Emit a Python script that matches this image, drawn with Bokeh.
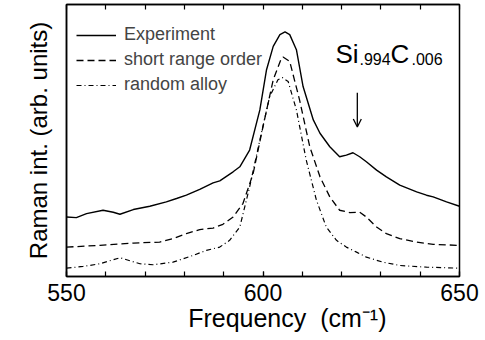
from bokeh.plotting import figure
from bokeh.models import (Range1d, FixedTicker, LinearAxis, Legend, LegendItem,
                          Label, Arrow, OpenHead)
from bokeh.embed import file_html
from bokeh.resources import INLINE

# Experiment (solid)
freq_exp = [550.0, 552.5, 555.1, 559.3, 561.9, 563.6, 567.0, 571.2, 575.4, 578.0,
            580.5, 583.9, 587.3, 589.0, 592.4, 594.1, 596.6, 599.2, 600.9, 602.6,
            604.3, 605.6, 606.8, 608.5, 610.2, 612.8, 614.5, 617.0, 619.5, 621.2,
            622.9, 624.6, 626.3, 628.9, 631.4, 634.8, 639.1, 641.6, 643.3, 646.7, 650.0]
int_exp = [59.3, 58.7, 62.7, 66.0, 64.0, 62.0, 66.7, 70.0, 74.3, 77.7,
           81.0, 86.7, 93.3, 95.3, 104.3, 109.3, 126.0, 166.0, 206.0, 229.3,
           241.0, 243.7, 241.0, 226.0, 189.3, 156.0, 142.7, 129.3, 119.3, 121.0,
           123.3, 119.3, 114.3, 106.0, 99.3, 91.0, 84.3, 81.0, 79.3, 74.3, 70.0]

# short range order (dashed)
freq_sro = [550.0, 558.5, 567.0, 573.7, 577.1, 580.5, 583.9, 587.3, 589.8, 592.4,
            594.9, 597.5, 600.0, 602.6, 604.7, 605.1, 606.8, 609.3, 611.9, 614.5,
            617.0, 619.5, 622.1, 624.6, 626.3, 628.9, 631.4, 634.8, 639.1, 643.3, 650.0]
int_sro = [29.3, 31.0, 33.3, 34.3, 37.7, 42.7, 46.7, 48.3, 52.0, 59.3,
           72.7, 102.7, 149.3, 196.0, 217.7, 218.7, 214.3, 176.0, 129.3, 99.3,
           79.3, 66.0, 63.7, 64.0, 59.3, 49.3, 42.7, 37.7, 34.3, 32.0, 31.0]

# random alloy (dash-dot)
freq_ra = [550.0, 554.2, 558.5, 561.9, 563.6, 565.3, 568.7, 572.0, 577.1, 582.2,
           585.6, 589.0, 591.5, 594.1, 596.6, 599.2, 601.7, 603.8, 604.9, 606.4,
           608.5, 611.0, 613.6, 616.1, 618.7, 621.2, 623.8, 626.3, 630.5, 634.8,
           641.6, 650.0]
int_ra = [8.3, 10.0, 12.7, 16.7, 18.7, 16.7, 12.7, 11.7, 14.3, 21.0,
          26.0, 29.3, 36.0, 49.3, 89.3, 136.0, 179.3, 196.0, 198.3, 194.3,
          166.0, 116.0, 76.0, 49.3, 36.0, 29.3, 24.3, 19.3, 14.3, 11.0,
          9.3, 8.3]

x_major_ticks = [550, 600, 650]
x_minor_ticks = [550, 560, 570, 580, 590, 600, 610, 620, 630, 640, 650]
series_labels = ["Experiment", "short range order", "random alloy"]
arrow_freq = 624.0
arrow_top, arrow_bottom = 183, 149

FONT = "Liberation Sans"

p = figure(width=485, height=340, output_backend="svg", toolbar_location=None,
           x_range=Range1d(550, 650), y_range=Range1d(0, 271),
           min_border_left=66, min_border_right=26, min_border_top=4,
           min_border_bottom=64)
p.xgrid.visible = False
p.ygrid.visible = False
p.outline_line_color = "black"
p.outline_line_width = 1.5
p.outline_line_alpha = 1.0

xa = p.xaxis[0]
xa.ticker = FixedTicker(ticks=x_major_ticks, minor_ticks=x_minor_ticks)
xa.major_tick_in = 5
xa.major_tick_out = 0
xa.minor_tick_in = 5
xa.minor_tick_out = 0
xa.axis_line_width = 1.5
xa.major_tick_line_width = 1.2
xa.minor_tick_line_width = 1.2
xa.major_label_standoff = 7
xa.major_label_text_font = FONT
xa.major_label_text_font_size = "23px"
xa.major_label_text_color = "black"
xa.axis_label = "\u00a0" * 7 + "Frequency\u00a0\u00a0(cm\u207b\u00b9)"
xa.axis_label_text_font = FONT
xa.axis_label_text_font_size = "25px"
xa.axis_label_text_font_style = "normal"
xa.axis_label_text_color = "black"
xa.axis_label_standoff = 0

ya = p.yaxis[0]
ya.ticker = FixedTicker(ticks=[])
ya.major_tick_in = 0
ya.major_tick_out = 0
ya.minor_tick_in = 0
ya.minor_tick_out = 0
ya.axis_line_width = 1.5
ya.axis_label = "Raman int. (arb. units)"
ya.axis_label_text_font = FONT
ya.axis_label_text_font_size = "24px"
ya.axis_label_text_font_style = "normal"
ya.axis_label_text_color = "black"
ya.axis_label_standoff = 15

top = LinearAxis(ticker=FixedTicker(ticks=[], minor_ticks=x_minor_ticks))
top.minor_tick_in = 5
top.minor_tick_out = 0
top.major_tick_in = 0
top.major_tick_out = 0
top.minor_tick_line_width = 1.2
top.axis_line_width = 1.5
p.add_layout(top, "above")

r1 = p.line(freq_exp, int_exp, line_color="black", line_width=1.4)
r2 = p.line(freq_sro, int_sro, line_color="black", line_width=1.3, line_dash="7 4")
r3 = p.line(freq_ra, int_ra, line_color="black", line_width=1.2, line_dash="5 3 1 3")

legend = Legend(items=[LegendItem(label=series_labels[0], renderers=[r1]),
                       LegendItem(label=series_labels[1], renderers=[r2]),
                       LegendItem(label=series_labels[2], renderers=[r3])],
                location=(10, 181), margin=0, padding=0, spacing=4,
                border_line_color=None, background_fill_alpha=0,
                label_text_font=FONT, label_text_font_size="18px",
                label_height=20, glyph_height=20, glyph_width=40, label_standoff=8)
p.add_layout(legend)

main_kw = dict(x_units="screen", y_units="screen", text_font=FONT,
               text_color="black", text_baseline="alphabetic")
p.add_layout(Label(x=269, y=223, text="Si", text_font_size="26px", **main_kw))
p.add_layout(Label(x=293, y=218, text=".994", text_font_size="16px", **main_kw))
p.add_layout(Label(x=324, y=223, text="C", text_font_size="26px", **main_kw))
p.add_layout(Label(x=345, y=218, text=".006", text_font_size="16px", **main_kw))

p.add_layout(Arrow(x_start=arrow_freq, y_start=arrow_top, x_end=arrow_freq,
                   y_end=arrow_bottom, line_width=1.3, line_color="black",
                   end=OpenHead(size=8, line_width=1.3, line_color="black")))

open("out.html", "w").write(file_html(p, INLINE))
